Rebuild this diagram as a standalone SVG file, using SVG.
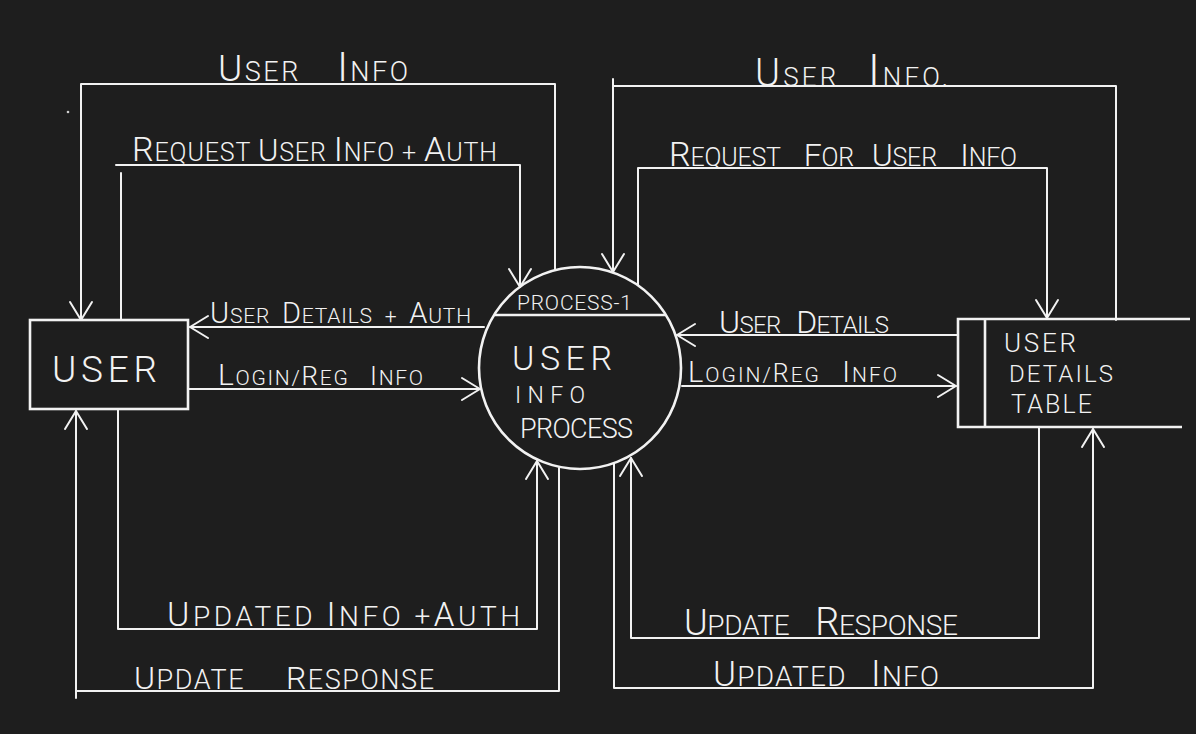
<svg xmlns="http://www.w3.org/2000/svg" width="1196" height="734" viewBox="0 0 1196 734">
<style>
.bg{fill:#1e1e1e}
.ln{fill:none;stroke:#f2f2f2;stroke-width:2;stroke-linecap:round;stroke-linejoin:round}
.nd{fill:none;stroke:#f2f2f2;stroke-width:2.6}
.t{fill:#f2f2f2;font-family:Roboto,"Liberation Sans",sans-serif;font-weight:300;white-space:pre}
</style>
<defs>
<marker id="arr" markerUnits="userSpaceOnUse" viewBox="-2 -2 22 26" refX="18" refY="11" markerWidth="22" markerHeight="26" orient="auto">
<path d="M0,0 L18,11 L0,22" fill="none" stroke="#f2f2f2" stroke-width="2" stroke-linecap="round" stroke-linejoin="round"/>
</marker>
</defs>
<rect class="bg" x="0" y="0" width="1196" height="734"/>
<circle cx="68" cy="112" r="1.3" fill="#cfcfcf"/>

<g id="connectors">
<g id="c-user-info-left">
<path class="ln" d="M555,270 V84 H81 V320" marker-end="url(#arr)"/>
<text class="t" x="218" y="81" textLength="190" lengthAdjust="spacing" font-size="27" xml:space="preserve"><tspan font-size="37">U</tspan>SER    <tspan font-size="40">I</tspan>NFO</text>
</g>
<g id="c-request-auth">
<path class="ln" d="M121,320 V173 M116,165 H520 V287" marker-end="url(#arr)"/>
<text class="t" x="132" y="161" textLength="365" lengthAdjust="spacing" font-size="25" xml:space="preserve"><tspan font-size="34">R</tspan>EQUEST <tspan font-size="31">U</tspan>SER <tspan font-size="34">I</tspan>NFO + <tspan font-size="34">A</tspan>UTH</text>
</g>
<g id="c-details-auth">
<path class="ln" d="M484,327 H190" marker-end="url(#arr)"/>
<text class="t" x="210" y="323" textLength="261" lengthAdjust="spacing" font-size="21" xml:space="preserve"><tspan font-size="29">U</tspan>SER  <tspan font-size="29">D</tspan>ETAILS  +  <tspan font-size="29">A</tspan>UTH</text>
</g>
<g id="c-login-left">
<path class="ln" d="M188,389 H480" marker-end="url(#arr)"/>
<text class="t" x="218" y="385" textLength="205" lengthAdjust="spacing" font-size="21" xml:space="preserve"><tspan font-size="30">L</tspan>OGIN/<tspan font-size="26">R</tspan>EG   <tspan font-size="26">I</tspan>NFO</text>
</g>
<g id="c-updated-auth">
<path class="ln" d="M118,409 V629 H537 V461" marker-end="url(#arr)"/>
<text class="t" x="167" y="626" textLength="353" lengthAdjust="spacing" font-size="28" xml:space="preserve"><tspan font-size="34">U</tspan>PDATED <tspan font-size="34">I</tspan>NFO +<tspan font-size="33">A</tspan>UTH</text>
</g>
<g id="c-update-response-left">
<path class="ln" d="M559,468 V691 H76 M76,698 V411" marker-end="url(#arr)"/>
<text class="t" x="134" y="689" textLength="300" lengthAdjust="spacing" font-size="27" xml:space="preserve"><tspan font-size="32">U</tspan>PDATE     <tspan font-size="32">R</tspan>ESPONSE</text>
</g>
<g id="c-user-info-right">
<path class="ln" d="M1116,320 V86 H613 M613,79 V272" marker-end="url(#arr)"/>
<text class="t" x="755" y="86" textLength="193" lengthAdjust="spacing" font-size="26" xml:space="preserve"><tspan font-size="38">U</tspan>SER   <tspan font-size="44">I</tspan>NFO.</text>
</g>
<g id="c-request-for">
<path class="ln" d="M638,285 V168 H1047 V318" marker-end="url(#arr)"/>
<text class="t" x="669" y="166" textLength="348" lengthAdjust="spacing" font-size="25" xml:space="preserve"><tspan font-size="34">R</tspan>EQUEST    <tspan font-size="32">F</tspan>OR   <tspan font-size="32">U</tspan>SER    <tspan font-size="32">I</tspan>NFO</text>
</g>
<g id="c-user-details">
<path class="ln" d="M958,335 H677" marker-end="url(#arr)"/>
<text class="t" x="719" y="333" textLength="170" lengthAdjust="spacing" font-size="24" xml:space="preserve"><tspan font-size="32">U</tspan>SER   <tspan font-size="32">D</tspan>ETAILS</text>
</g>
<g id="c-login-right">
<path class="ln" d="M682,386 H956" marker-end="url(#arr)"/>
<text class="t" x="688" y="382" textLength="209" lengthAdjust="spacing" font-size="21" xml:space="preserve"><tspan font-size="29">L</tspan>OGIN/<tspan font-size="25">R</tspan>EG   <tspan font-size="29">I</tspan>NFO</text>
</g>
<g id="c-update-response-right">
<path class="ln" d="M1039,427 V638 H631 V458" marker-end="url(#arr)"/>
<text class="t" x="684" y="635" textLength="274" lengthAdjust="spacing" font-size="28" xml:space="preserve"><tspan font-size="36">U</tspan>PDATE    <tspan font-size="38">R</tspan>ESPONSE</text>
</g>
<g id="c-updated-info">
<path class="ln" d="M614,463 V688 H1093 V429" marker-end="url(#arr)"/>
<text class="t" x="713" y="686" textLength="226" lengthAdjust="spacing" font-size="28" xml:space="preserve"><tspan font-size="35">U</tspan>PDATED   <tspan font-size="36">I</tspan>NFO</text>
</g>
</g>

<g id="user">
<rect class="nd" x="30" y="320" width="158" height="89"/>
<text class="t" x="52" y="382" textLength="105" lengthAdjust="spacing" font-size="37">USER</text>
</g>

<g id="process">
<circle class="nd" cx="580" cy="368" r="101"/>
<line class="nd" x1="495" y1="315" x2="665" y2="315"/>
<text class="t" x="517" y="310" textLength="115" lengthAdjust="spacing" font-size="21">PROCESS-1</text>
<text class="t" x="512" y="370" textLength="100" lengthAdjust="spacing" font-size="34">USER</text>
<text class="t" x="515" y="403" textLength="70" lengthAdjust="spacing" font-size="23">INFO</text>
<text class="t" x="520" y="438" textLength="113" lengthAdjust="spacing" font-size="27">PROCESS</text>
</g>

<g id="table">
<path class="nd" d="M1190,319 H958 V427 H1182 M985,319 V427"/>
<text class="t" x="1004" y="352" textLength="72" lengthAdjust="spacing" font-size="26">USER</text>
<text class="t" x="1009" y="382" textLength="104" lengthAdjust="spacing" font-size="24">DETAILS</text>
<text class="t" x="1011" y="413" textLength="81" lengthAdjust="spacing" font-size="25">TABLE</text>
</g>
</svg>
